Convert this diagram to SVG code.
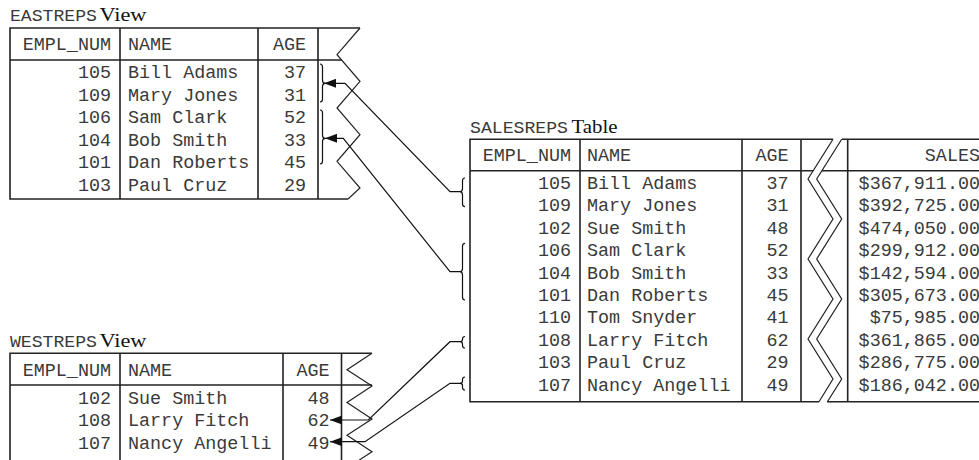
<svg xmlns="http://www.w3.org/2000/svg" width="979" height="460" viewBox="0 0 979 460">
<style>
.m{font-family:"Liberation Mono","Courier New",monospace;font-size:18.4px;fill:#3a3a3a}
.t{font-family:"Liberation Mono","Courier New",monospace;font-size:16.5px;fill:#3a3a3a}
.s{font-family:"Liberation Serif","Times New Roman",serif;font-size:18px;fill:#111}
.r{text-anchor:end}
.b{fill:none;stroke:#222;stroke-width:1.6}
.z{fill:none;stroke:#222;stroke-width:1.2}
.c{fill:none;stroke:#111;stroke-width:1.2}
</style>
<defs>
<marker id="ah" viewBox="0 0 12 9" refX="12" refY="4.5" markerWidth="12" markerHeight="9" markerUnits="userSpaceOnUse" orient="auto"><path d="M0,0 L12,4.5 L0,9 z" fill="#111"/></marker>
</defs>

<g id="eastreps">
<text class="t" x="10" y="20.7" textLength="87" lengthAdjust="spacingAndGlyphs">EASTREPS</text>
<text class="s" x="99.5" y="20.7" textLength="47" lengthAdjust="spacingAndGlyphs">View</text>
<path class="b" d="M360,28 H10 V199 H348 M120,28 V199 M258,28 V199 M318,28 V199 M10,60 H341.6"/>
<path class="z" d="M360,28 L337,54.7 L360,81.3 L337,108 L360,134.7 L337,161.3 L360,188 L348,199"/>
<text class="m r" x="111" y="50">EMPL_NUM</text>
<text class="m" x="128" y="50">NAME</text>
<text class="m r" x="306" y="50">AGE</text>
<text class="m r" x="111" y="78.3">105</text><text class="m" x="128" y="78.3">Bill Adams</text><text class="m r" x="306" y="78.3">37</text>
<text class="m r" x="111" y="100.8">109</text><text class="m" x="128" y="100.8">Mary Jones</text><text class="m r" x="306" y="100.8">31</text>
<text class="m r" x="111" y="123.3">106</text><text class="m" x="128" y="123.3">Sam Clark</text><text class="m r" x="306" y="123.3">52</text>
<text class="m r" x="111" y="145.8">104</text><text class="m" x="128" y="145.8">Bob Smith</text><text class="m r" x="306" y="145.8">33</text>
<text class="m r" x="111" y="168.3">101</text><text class="m" x="128" y="168.3">Dan Roberts</text><text class="m r" x="306" y="168.3">45</text>
<text class="m r" x="111" y="190.8">103</text><text class="m" x="128" y="190.8">Paul Cruz</text><text class="m r" x="306" y="190.8">29</text>
</g>

<g id="salesreps">
<text class="t" x="470" y="132.7" textLength="98" lengthAdjust="spacingAndGlyphs">SALESREPS</text>
<text class="s" x="571.5" y="132.7" textLength="46" lengthAdjust="spacingAndGlyphs">Table</text>
<path class="b" d="M833,139.3 H470 V401.7 H819 M842,139.3 H979 M827,401.7 H979 M580,139.3 V401.7 M742,139.3 V401.7 M801,139.3 V401.7 M847.7,139.3 V401.7 M470,170.7 H813.2 M821.9,170.7 H979"/>
<path class="z" d="M833,139.3 L808,179 L833,219 L808,259 L833,299 L808,339 L833,379 L819,401.7"/>
<path class="z" d="M841.7,139.3 L816.7,179 L841.7,219 L816.7,259 L841.7,299 L816.7,339 L841.7,379 L827.4,401.7"/>
<text class="m r" x="571" y="160.7">EMPL_NUM</text>
<text class="m" x="587" y="160.7">NAME</text>
<text class="m r" x="788.5" y="160.7">AGE</text>
<text class="m r" x="980" y="160.7">SALES</text>
<text class="m r" x="571" y="189">105</text><text class="m" x="587" y="189">Bill Adams</text><text class="m r" x="788.5" y="189">37</text><text class="m r" x="980" y="189">$367,911.00</text>
<text class="m r" x="571" y="211.4">109</text><text class="m" x="587" y="211.4">Mary Jones</text><text class="m r" x="788.5" y="211.4">31</text><text class="m r" x="980" y="211.4">$392,725.00</text>
<text class="m r" x="571" y="233.8">102</text><text class="m" x="587" y="233.8">Sue Smith</text><text class="m r" x="788.5" y="233.8">48</text><text class="m r" x="980" y="233.8">$474,050.00</text>
<text class="m r" x="571" y="256.2">106</text><text class="m" x="587" y="256.2">Sam Clark</text><text class="m r" x="788.5" y="256.2">52</text><text class="m r" x="980" y="256.2">$299,912.00</text>
<text class="m r" x="571" y="278.6">104</text><text class="m" x="587" y="278.6">Bob Smith</text><text class="m r" x="788.5" y="278.6">33</text><text class="m r" x="980" y="278.6">$142,594.00</text>
<text class="m r" x="571" y="301">101</text><text class="m" x="587" y="301">Dan Roberts</text><text class="m r" x="788.5" y="301">45</text><text class="m r" x="980" y="301">$305,673.00</text>
<text class="m r" x="571" y="323.4">110</text><text class="m" x="587" y="323.4">Tom Snyder</text><text class="m r" x="788.5" y="323.4">41</text><text class="m r" x="980" y="323.4">$75,985.00</text>
<text class="m r" x="571" y="345.8">108</text><text class="m" x="587" y="345.8">Larry Fitch</text><text class="m r" x="788.5" y="345.8">62</text><text class="m r" x="980" y="345.8">$361,865.00</text>
<text class="m r" x="571" y="368.2">103</text><text class="m" x="587" y="368.2">Paul Cruz</text><text class="m r" x="788.5" y="368.2">29</text><text class="m r" x="980" y="368.2">$286,775.00</text>
<text class="m r" x="571" y="390.6">107</text><text class="m" x="587" y="390.6">Nancy Angelli</text><text class="m r" x="788.5" y="390.6">49</text><text class="m r" x="980" y="390.6">$186,042.00</text>
</g>

<g id="westreps">
<text class="t" x="10" y="346.7" textLength="87" lengthAdjust="spacingAndGlyphs">WESTREPS</text>
<text class="s" x="99.5" y="346.7" textLength="47" lengthAdjust="spacingAndGlyphs">View</text>
<path class="b" d="M372,353.3 H10 V461 M120,353.3 V461 M283,353.3 V461 M341.5,353.3 V461 M10,385 H372"/>
<path class="z" d="M372,353.3 L347,369.7 L372,386.1 L347,402.5 L372,418.9 L347,435.3 L372,451.7 L359,460.2"/>
<text class="m r" x="111" y="376">EMPL_NUM</text>
<text class="m" x="128" y="376">NAME</text>
<text class="m r" x="329.5" y="376">AGE</text>
<text class="m r" x="111" y="403.5">102</text><text class="m" x="128" y="403.5">Sue Smith</text><text class="m r" x="329.5" y="403.5">48</text>
<text class="m r" x="111" y="426.3">108</text><text class="m" x="128" y="426.3">Larry Fitch</text><text class="m r" x="329.5" y="426.3">62</text>
<text class="m r" x="111" y="449.1">107</text><text class="m" x="128" y="449.1">Nancy Angelli</text><text class="m r" x="329.5" y="449.1">49</text>
</g>

<g id="connectors">
<path class="c" d="M320,64 Q322.5,64 322.5,67 V80 Q322.5,83.3 325,83.3 Q322.5,83.3 322.5,86.5 V99 Q322.5,102 320,102"/>
<path class="c" d="M320,110 Q322.5,110 322.5,113 V135 Q322.5,138.3 325,138.3 Q322.5,138.3 322.5,141.5 V161 Q322.5,164 320,164"/>
<path class="c" d="M465,178 Q462.5,178 462.5,181 V188.5 Q462.5,191.7 460,191.7 Q462.5,191.7 462.5,195 V203.7 Q462.5,206.7 465,206.7"/>
<path class="c" d="M465,243.3 Q462.5,243.3 462.5,246.3 V268.5 Q462.5,271.7 460,271.7 Q462.5,271.7 462.5,275 V297 Q462.5,300 465,300"/>
<path class="c" d="M465,336.5 Q462.5,336.5 462.5,339 V339.5 Q462.5,341.7 460,341.7 Q462.5,341.7 462.5,344 V345.5 Q462.5,348 465,348"/>
<path class="c" d="M465,377 Q462.5,377 462.5,379.5 V381 Q462.5,383.3 460,383.3 Q462.5,383.3 462.5,385.5 V387.5 Q462.5,390 465,390"/>
<path class="c" marker-end="url(#ah)" d="M460.5,191.7 H450 L345,83.3 H324"/>
<path class="c" marker-end="url(#ah)" d="M460.5,271.7 H450 L343.3,138.3 H325"/>
<path class="c" marker-end="url(#ah)" d="M460.5,341.7 H450 L368.3,420 H330"/>
<path class="c" marker-end="url(#ah)" d="M460.5,383.3 H450 L365,441.7 H330"/>
</g>
</svg>
